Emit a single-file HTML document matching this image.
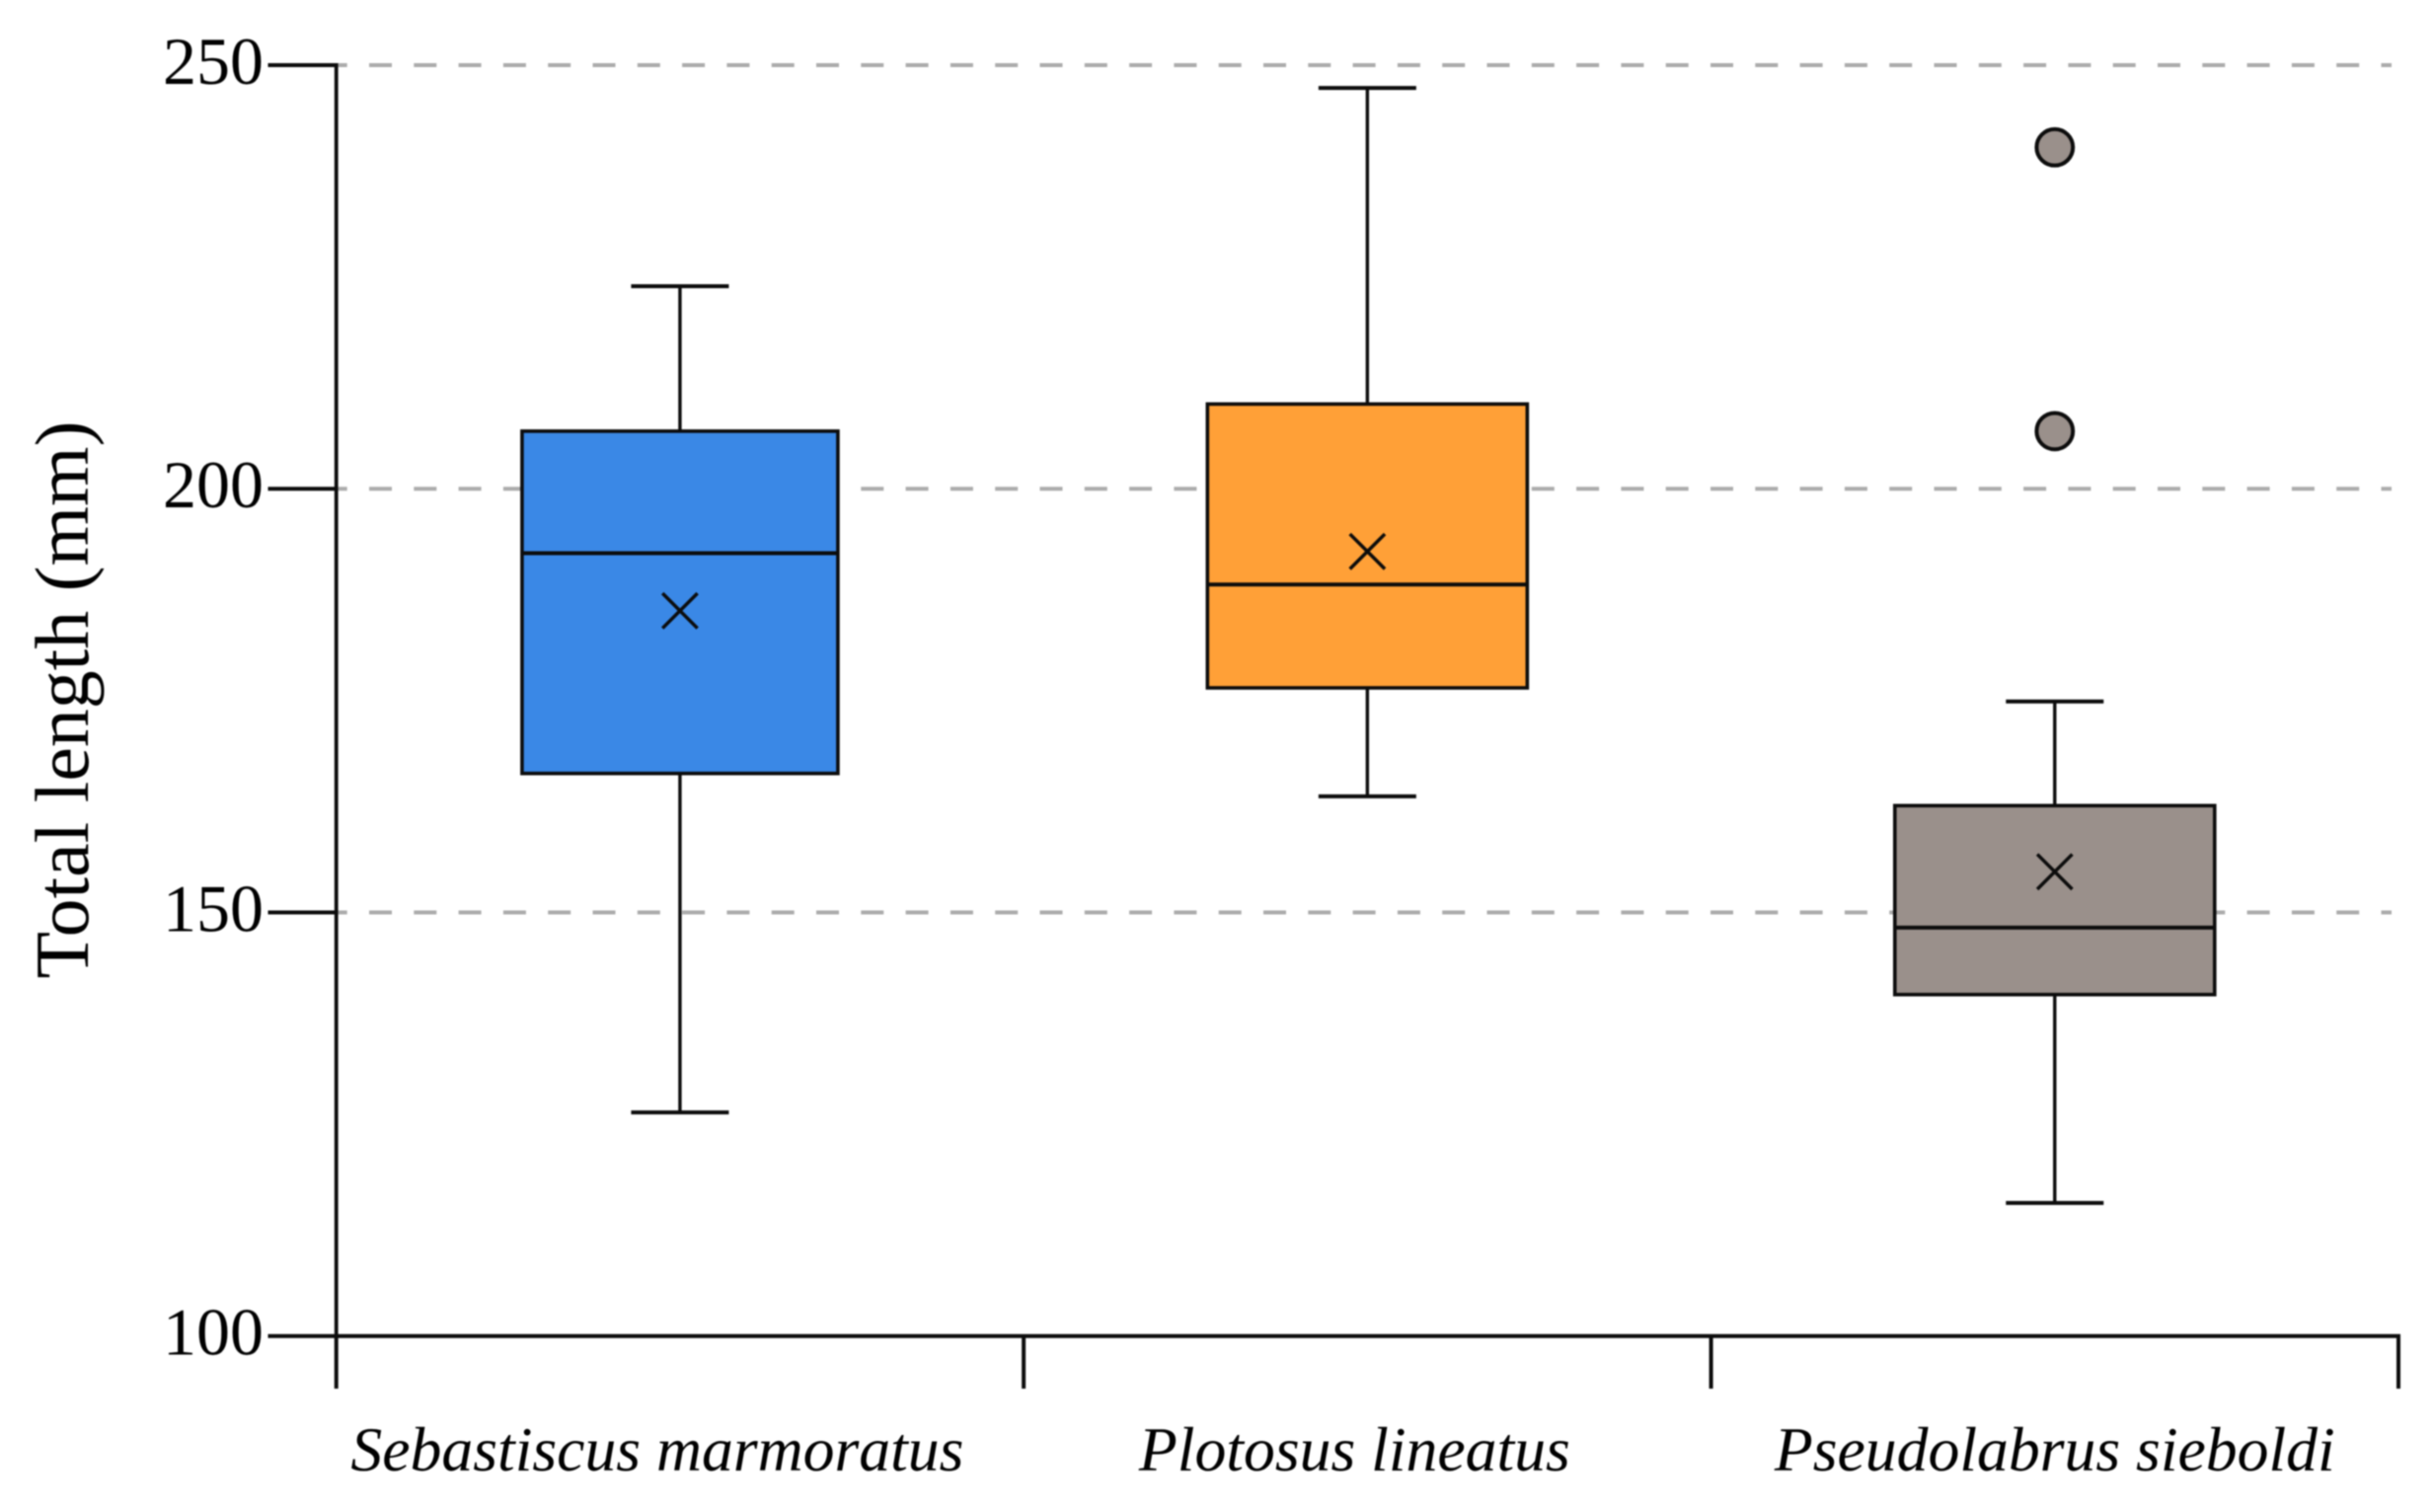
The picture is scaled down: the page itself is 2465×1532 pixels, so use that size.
<!DOCTYPE html>
<html lang="en">
<head>
<meta charset="utf-8">
<title>Total length box plot</title>
<style>
  html, body { margin: 0; padding: 0; background: #fff; }
  svg { display: block; filter: blur(0.7px); }
  text { font-family: "Liberation Serif", serif; fill: #000; }
</style>
</head>
<body>
<svg id="chart" xmlns="http://www.w3.org/2000/svg" width="2465" height="1532" viewBox="0 0 2465 1532">
  <rect x="0" y="0" width="2465" height="1532" fill="#ffffff"/>
  <g id="grid"></g>
  <g id="boxes"></g>
  <g id="axes"></g>
  <text transform="translate(89,709) rotate(-90)" text-anchor="middle" font-size="77.8">Total length (mm)</text>
</svg>
<script>
// Chart data
const categories = ["Sebastiscus marmoratus", "Plotosus lineatus", "Pseudolabrus sieboldi"];
const whiskerLow = [126.4, 163.7, 115.7];
const quartile1 = [166.4, 176.5, 140.3];
const medians = [192.4, 188.7, 148.2];
const means = [185.6, 192.6, 154.8];
const quartile3 = [206.8, 210.0, 162.6];
const whiskerHigh = [223.9, 247.3, 174.9];
const outliers = [[], [], [240.3, 206.8]];
const yTicks = [100, 150, 200, 250];
const gridTicks = [150, 200, 250];

// Layout and styling (separate from the data)
const plotLeft = 340.7, plotRight = 2430, plotBottom = 1353.7, plotTop = 66;
const yMin = 100, yMax = 250;
const fillColors = ["#3a88e6", "#ffa037", "#9a908b"];
const boxWidths = [320, 324, 324];
const labelNudges = [-23, -13, 0];
const capHalf = 49.5, markHalf = 17.7, outlierRadius = 18.4;
const ink = "#0c0c0c";

function yScale(v) {
  return plotBottom - (v - yMin) / (yMax - yMin) * (plotBottom - plotTop);
}
function xStep() {
  return (plotRight - plotLeft) / categories.length;
}
function xEdge(i) {
  return plotLeft + xStep() * i;
}
function xCenter(i) {
  return xEdge(i) + xStep() / 2;
}
function make(parent, tag, attrs) {
  const el = document.createElementNS("http://www.w3.org/2000/svg", tag);
  Object.keys(attrs).forEach(function (k) { el.setAttribute(k, attrs[k]); });
  parent.appendChild(el);
  return el;
}
function line(parent, x1, y1, x2, y2, width, color) {
  return make(parent, "line", { x1: x1, y1: y1, x2: x2, y2: y2, stroke: color || ink, "stroke-width": width });
}

const gridGroup = document.getElementById("grid");
const boxGroup = document.getElementById("boxes");
const axisGroup = document.getElementById("axes");

// Gridlines
gridTicks.forEach(function (t) {
  const g = line(gridGroup, plotLeft, yScale(t), 2423, yScale(t), 4, "#ababab");
  g.setAttribute("stroke-dasharray", "23 22.3");
  g.setAttribute("stroke-dashoffset", "12");
  
  
});

// Boxes
categories.forEach(function (name, i) {
  const cx = xCenter(i);
  const w = boxWidths[i];
  const slug = name.toLowerCase().replace(/\s+/g, "-");

  const group = make(boxGroup, "g", {});
  
  

  const stem = line(group, cx, yScale(whiskerLow[i]), cx, yScale(whiskerHigh[i]), 3.4);
  
  

  const capHigh = line(group, cx - capHalf, yScale(whiskerHigh[i]), cx + capHalf, yScale(whiskerHigh[i]), 4);
  
  

  const capLow = line(group, cx - capHalf, yScale(whiskerLow[i]), cx + capHalf, yScale(whiskerLow[i]), 4);
  
  

  const box = make(group, "rect", {
    x: cx - w / 2,
    y: yScale(quartile3[i]),
    width: w,
    height: yScale(quartile1[i]) - yScale(quartile3[i]),
    fill: fillColors[i],
    stroke: ink,
    "stroke-width": 3.6
  });
  
  

  const med = line(group, cx - w / 2, yScale(medians[i]), cx + w / 2, yScale(medians[i]), 4);
  
  

  const my = yScale(means[i]);
  const mean = make(group, "path", {
    d: "M" + (cx - markHalf) + " " + (my - markHalf) + "L" + (cx + markHalf) + " " + (my + markHalf) +
       "M" + (cx - markHalf) + " " + (my + markHalf) + "L" + (cx + markHalf) + " " + (my - markHalf),
    stroke: ink,
    "stroke-width": 3.5,
    fill: "none"
  });
  
  

  outliers[i].forEach(function (v) {
    const dot = make(group, "circle", {
      cx: cx,
      cy: yScale(v),
      r: outlierRadius,
      fill: fillColors[i],
      stroke: ink,
      "stroke-width": 4
    });
    
    
  });
});

// Axes
const yAxis = line(axisGroup, plotLeft, plotTop - 2, plotLeft, plotBottom, 3.8);



const xAxis = line(axisGroup, plotLeft - 2, plotBottom, plotRight + 2, plotBottom, 4);



yTicks.forEach(function (t) {
  const tick = line(axisGroup, 271.5, yScale(t), plotLeft, yScale(t), 4);
  
  

  const label = make(axisGroup, "text", { x: 267, y: yScale(t) + 19, "text-anchor": "end", "font-size": 68 });
  label.textContent = String(t);
  
  
});

for (let i = 0; i <= categories.length; i++) {
  const tick = line(axisGroup, xEdge(i), plotBottom, xEdge(i), 1407, 4);
  
  
}

categories.forEach(function (name, i) {
  const label = make(axisGroup, "text", {
    x: xCenter(i) + labelNudges[i],
    y: 1490,
    "text-anchor": "middle",
    "font-size": 63.7,
    "font-style": "italic"
  });
  label.textContent = name;
  
  
});
</script>
</body>
</html>
